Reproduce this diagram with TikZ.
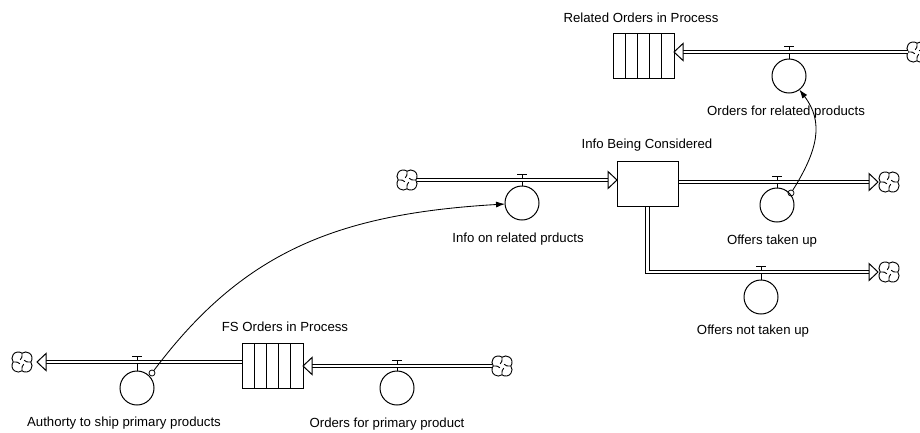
\documentclass[tikz,border=0pt]{standalone}
\usepackage{fontspec}
\setmainfont{Liberation Sans}
\usetikzlibrary{arrows.meta}
\begin{document}
\begin{tikzpicture}[x=1pt,y=-1pt,
  every node/.style={inner sep=0pt, outer sep=0pt},
  pipe/.style={draw=black, line width=0.95pt, double=white, double distance=2.4pt, line join=miter},
  flowtip/.style={draw=black, fill=white, line width=1pt, line join=miter},
  stockbox/.style={draw, fill=white, line width=1pt, rectangle, minimum width=61pt, minimum height=45pt},
  valvecirc/.style={draw, fill=white, line width=1pt, circle, minimum size=34pt},
  stem/.style={line width=1pt},
  lbl/.style={font=\fontsize{13.2}{15}\selectfont, anchor=base},
  link/.style={line width=0.85pt, -{Latex[length=9pt,width=6pt]}},
  linkstart/.style={draw, line width=0.75pt, circle, minimum size=6pt},
  cloud/.pic={
    \foreach \a in {45,135,225,315}{
      \draw[line width=0.9pt] (\a:5.3pt) ++(\a-81.5:6.3pt) arc[start angle=\a-81.5, end angle=\a+81.5, radius=6.3pt];
      \draw[line width=0.9pt] (\a+45:8.8pt) .. controls (\a+45:4.2pt) .. (\a+85:2.8pt);
    }
  },
]
\useasboundingbox (0,0) rectangle (920,432);
\clip (0,0) rectangle (920,432);

% sources and sinks
\coordinate (clrel)   at (917,52);
\coordinate (clinfo)  at (407,180);
\coordinate (cltaken) at (889,182);
\coordinate (clnot)   at (889,272);
\coordinate (clprim)  at (502,366);
\coordinate (clauth)  at (22,362);
\foreach \c in {clrel,clinfo,cltaken,clnot,clprim,clauth}
  \pic at (\c) {cloud};

% stocks
\node[stockbox] (relstock) at (643.5,55.5) {};
\node[stockbox] (info)     at (647.5,183.5) {};
\node[stockbox] (fsstock)  at (272.5,365.5) {};

% arrow tips of the flows
\coordinate (reltip)   at (relstock.east |- clrel);
\coordinate (infotip)  at (info.west |- clinfo);
\coordinate (takentip) at (878,182);
\coordinate (nottip)   at (878,272);
\coordinate (fstip)    at (fsstock.east |- clprim);
\coordinate (authtip)  at (37,362);

% valve tops
\coordinate (brel)   at (789,46);
\coordinate (binfo)  at (522,174);
\coordinate (btaken) at (777,176);
\coordinate (bnot)   at (761,266);
\coordinate (bprim)  at (397,360);
\coordinate (bauth)  at (137,356);

% valve circles
\node[valvecirc] (vrel)   at (789,76) {};
\node[valvecirc] (vinfo)  at (522,203) {};
\node[valvecirc] (vtaken) at (777,205) {};
\node[valvecirc] (vnot)   at (761,297) {};
\node[valvecirc] (vprim)  at (397,388) {};
\node[valvecirc] (vauth)  at (137,388) {};

% valve stems and bars
\foreach \v/\b in {vrel/brel,vinfo/binfo,vtaken/btaken,vnot/bnot,vprim/bprim,vauth/bauth}{
  \draw[stem] (\v.north) -- (\b);
  \draw[stem] ([xshift=-5pt]\b) -- ([xshift=5pt]\b);
}

% flow pipes
\draw[pipe] ([xshift=-9pt]clrel) -- ([xshift=9pt]reltip);
\draw[pipe] ([xshift=10pt]clinfo) -- ([xshift=-9pt]infotip);
\draw[pipe] (info.east |- cltaken) -- ([xshift=-9pt]takentip);
\draw[pipe] (info.south) -- (info.south |- clnot) -- ([xshift=-9pt]nottip);
\draw[pipe] ([xshift=-10pt]clprim) -- ([xshift=9pt]fstip);
\draw[pipe] (fsstock.west |- clauth) -- ([xshift=9pt]authtip);

% stocks drawn over the pipe ends
\node[stockbox] at (relstock) {};
\node[stockbox] at (info) {};
\node[stockbox] at (fsstock) {};
\foreach \i in {1,...,4}{
  \draw[line width=1pt] ([xshift=\i*12.2pt]relstock.south west) -- ([xshift=\i*12.2pt]relstock.north west);
  \draw[line width=1pt] ([xshift=\i*12.2pt]fsstock.south west) -- ([xshift=\i*12.2pt]fsstock.north west);
}

% open arrowheads
\draw[flowtip] (reltip) -- ++(9pt,8.5pt) -- ++(0,-17pt) -- cycle;
\draw[flowtip] (fstip) -- ++(9pt,8.5pt) -- ++(0,-17pt) -- cycle;
\draw[flowtip] (authtip) -- ++(9pt,8.5pt) -- ++(0,-17pt) -- cycle;
\draw[flowtip] (infotip) -- ++(-9pt,8.5pt) -- ++(0,-17pt) -- cycle;
\draw[flowtip] (takentip) -- ++(-9pt,8.5pt) -- ++(0,-17pt) -- cycle;
\draw[flowtip] (nottip) -- ++(-9pt,8.5pt) -- ++(0,-17pt) -- cycle;

% information links
\node[linkstart] (s1) at (152,373) {};
\node[linkstart] (s2) at (791,193) {};
\draw[link] (s1) .. controls (242,253) and (335,214) .. (vinfo);
\draw[link] (s2) .. controls (818,150) and (824,122) .. (vrel);

% labels
\node[lbl] at (641,22)  {Related Orders in Process};
\node[lbl] at (786,115) {Orders for related products};
\node[lbl] at (647,148.5) {Info Being Considered};
\node[lbl] at (518,242.5) {Info on related prducts};
\node[lbl] at (772,244.5) {Offers taken up};
\node[lbl] at (753,334.5) {Offers not taken up};
\node[lbl] at (285,331.5) {FS Orders in Process};
\node[lbl] at (124,426.5) {Authorty to ship primary products};
\node[lbl] at (387,427.5) {Orders for primary product};
\end{tikzpicture}
\end{document}
